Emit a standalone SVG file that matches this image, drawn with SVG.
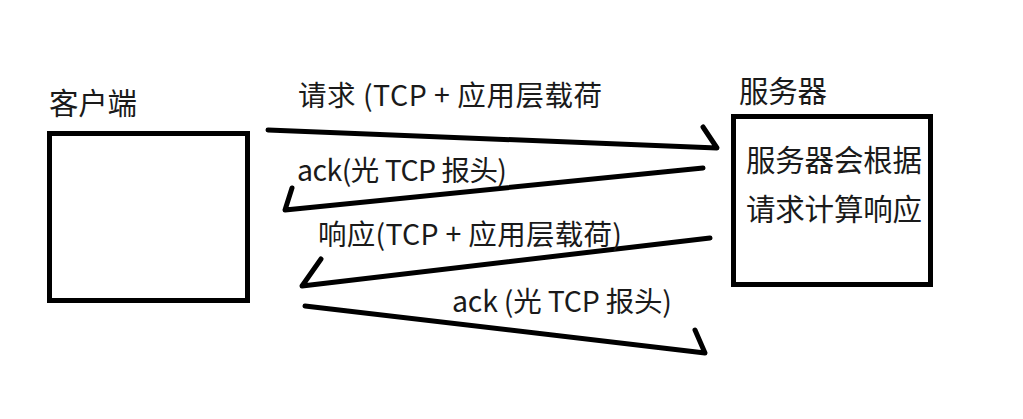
<svg xmlns="http://www.w3.org/2000/svg" width="1023" height="419" viewBox="0 0 1023 419">
<style>
text{font-family:"Microsoft YaHei","Noto Sans CJK SC","Noto Sans",sans-serif;fill:#1a1a1a}
.t{font-size:29.5px}
.l{font-size:28.5px}
.box{fill:#fff;stroke:#000;stroke-width:5}
.c{fill:none;stroke:#000;stroke-width:5;stroke-linecap:round;stroke-linejoin:round}
</style>
<rect width="1023" height="419" fill="#fff"/>
<g id="client">
<rect class="box" x="49.5" y="133.5" width="198" height="167"/>
<text class="t" x="49" y="114" textLength="88">客户端</text>
</g>
<g id="server">
<rect class="box" x="733.5" y="116.5" width="197" height="168"/>
<text class="t" x="739" y="102" textLength="88">服务器</text>
<text class="t" x="746" y="171" textLength="176">服务器会根据</text>
<text class="t" x="746" y="220" textLength="176">请求计算响应</text>
</g>
<g id="connectors">
<path class="c" d="M268 130 L717 148 L703 127"/>
<path class="c" d="M703 168 L285 210 L292 188"/>
<path class="c" d="M710 238 L302 286 L321 259"/>
<path class="c" d="M305 306 L705 353 L695 330"/>
</g>
<g id="labels">
<text class="l" x="298" y="106" textLength="304">请求 (TCP + 应用层载荷</text>
<text class="l" x="297" y="181" textLength="210">ack(光 TCP 报头)</text>
<text class="l" x="318" y="245" textLength="304">响应(TCP + 应用层载荷)</text>
<text class="l" x="452" y="312" textLength="220">ack (光 TCP 报头)</text>
</g>
</svg>
